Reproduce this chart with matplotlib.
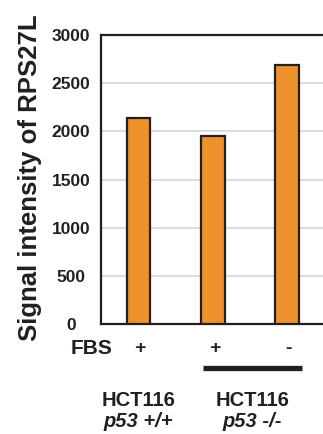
import numpy as np
import matplotlib.pyplot as plt

plt.rcParams['font.family'] = ['Liberation Sans', 'DejaVu Sans']
plt.rcParams['font.weight'] = 'bold'

# data
conditions = ['HCT116 p53 +/+ FBS+', 'HCT116 p53 -/- FBS+', 'HCT116 p53 -/- FBS-']
intensity = [2140, 1955, 2690]
fbs = ['+', '+', '-']
yticks = [0, 500, 1000, 1500, 2000, 2500, 3000]

dark = '#231f20'
orange = '#EE912A'

fig = plt.figure(figsize=(3.23, 4.34), dpi=100)
ax = fig.add_axes([101 / 323, 110 / 434, 222 / 323, 289 / 434])

x = np.arange(len(intensity))
ax.bar(x, intensity, width=0.32, color=orange, edgecolor=dark, linewidth=1.6, zorder=3)

ax.set_xlim(-0.505, 2.48)
ax.set_ylim(0, 3000)
ax.set_yticks(yticks)
ax.set_yticklabels([str(t) for t in yticks], fontsize=12.5, fontweight='bold', color=dark)
ax.tick_params(axis='y', length=0, pad=21.5)
for lab in ax.get_yticklabels():
    lab.set_ha('center')
ax.set_xticks([])
ax.yaxis.grid(True, color='#dcdcdc', linewidth=1.5, zorder=0)
ax.set_axisbelow(True)

for s in ['left', 'top', 'bottom']:
    ax.spines[s].set_color(dark)
    ax.spines[s].set_linewidth(1.6)
ax.spines['right'].set_visible(False)

fig.text(30 / 323, 1 - 178 / 434, 'Signal intensity of RPS27L', rotation=90,
         ha='center', va='center', fontsize=18.5, fontweight='bold', color=dark)

tr = ax.get_xaxis_transform()
ax.text(-0.635, -0.086, 'FBS', transform=tr, ha='center', va='center',
        fontsize=15, fontweight='bold', color=dark, clip_on=False)
for xi, f in zip(x, fbs):
    ax.text(xi + 0.02, -0.086, f, transform=tr, ha='center', va='center',
            fontsize=14, fontweight='bold', color=dark, clip_on=False)
ax.plot([0.865, 2.2], [-0.152, -0.152], transform=tr, color=dark,
        linewidth=3.8, solid_capstyle='butt', clip_on=False)

groups = [(0.0, 'HCT116', 'p53 +/+'), (1.53, 'HCT116', 'p53 -/-')]
for gx, line1, line2 in groups:
    ax.text(gx, -0.266, line1, transform=tr, ha='center', va='center',
            fontsize=14.5, fontweight='bold', color=dark, clip_on=False)
    ax.text(gx, -0.339, line2, transform=tr, ha='center', va='center',
            fontsize=14.5, fontweight='bold', style='italic', color=dark, clip_on=False)

fig.savefig('out.png', dpi=100)
